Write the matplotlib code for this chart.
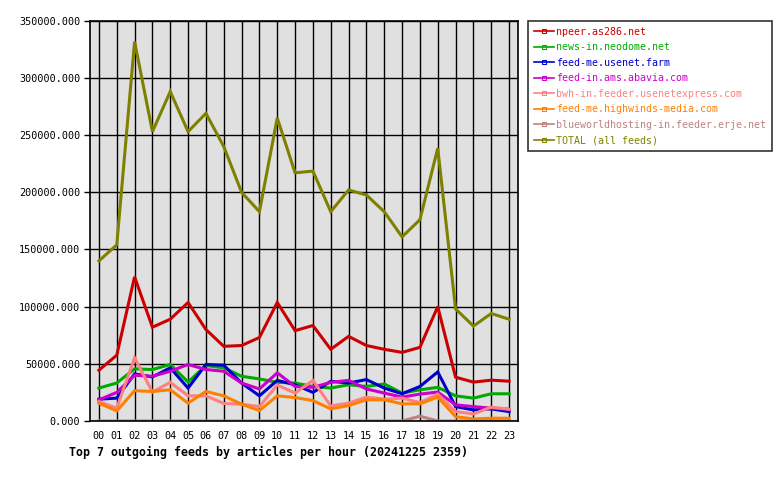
import numpy as np
import matplotlib
matplotlib.use('Agg')
import matplotlib.pyplot as plt
from matplotlib.lines import Line2D

# saat etiketleri
hours = ['%02d' % h for h in range(24)]

npeer = [44400, 57500, 126000, 82000, 89000, 103600, 80000, 65300, 66000, 73000, 103600, 79000,
         83500, 62700, 74000, 66000, 62700, 60000, 64400, 100000, 38300, 34000, 35700, 34800]
neodome = [28800, 33200, 45600, 45000, 49400, 34100, 48500, 46500, 39100, 36800, 33800, 33200,
           30200, 28800, 31700, 30200, 32400, 24400, 27300, 29400, 22000, 20000, 23800, 23800]
usenet_farm = [19100, 20000, 41200, 38500, 46500, 28800, 49400, 48800, 33200, 22000, 35500, 31700,
               25000, 34700, 33200, 36200, 28800, 23800, 30200, 42900, 12600, 9700, 10600, 8200]
abavia = [18500, 25000, 40000, 39100, 43500, 49400, 45000, 43500, 33200, 28000, 42100, 30200,
          29400, 33800, 35500, 28000, 24400, 20900, 23500, 25300, 14100, 12600, 11200, 10300]
bwh = [17000, 11200, 55300, 25300, 33800, 22000, 22000, 15300, 14700, 12600, 31500, 24400,
       35500, 13200, 15600, 20900, 19100, 20000, 16100, 23500, 8200, 6200, 12100, 10300]
highwinds = [15600, 8800, 26500, 25800, 27300, 15600, 25800, 22000, 14700, 9100, 22000, 20500,
             17900, 10600, 13500, 18500, 18500, 15000, 15000, 20900, 3800, 1800, 2400, 2400]
erje = [0, 0, 0, 0, 0, 0, 0, 0, 0, 0, 0, 0,
        0, 0, 0, 0, 0, 0, 4200, 0, 0, 0, 0, 0]
total = [140000, 154000, 331700, 253000, 288000, 253000, 269000, 240000, 200000, 183000, 265000, 217000,
         218500, 183000, 202000, 197600, 183000, 161000, 176000, 238500, 98000, 83000, 94000, 89000]

feeds = ['npeer.as286.net', 'news-in.neodome.net', 'feed-me.usenet.farm', 'feed-in.ams.abavia.com',
         'bwh-in.feeder.usenetexpress.com', 'feed-me.highwinds-media.com',
         'blueworldhosting-in.feeder.erje.net', 'TOTAL (all feeds)']
series = [npeer, neodome, usenet_farm, abavia, bwh, highwinds, erje, total]
colors = ['#cc0000', '#00aa00', '#0000cc', '#cc00cc', '#ff8080', '#ff8000', '#c08080', '#808000']

plt.rcParams['font.family'] = 'DejaVu Sans Mono'

fig = plt.figure(figsize=(7.8, 4.8), dpi=100)
ax = fig.add_axes([90/780, 1 - 421/480, 428/780, 400.3/480])
ax.set_facecolor('#e0e0e0')

x = np.arange(len(hours))
for vals, c in zip(series, colors):
    ax.plot(x, vals, color=c, lw=2.2, solid_joinstyle='miter')

ax.set_xlim(-0.5, 23.5)
ax.set_ylim(0, 350000)
ax.set_xticks(x)
ax.set_xticklabels(hours)
yt = np.arange(0, 350001, 50000)
ax.set_yticks(yt)
ax.set_yticklabels(['%.3f' % v for v in yt])
ax.tick_params(axis='x', length=0, pad=7, labelsize=7.3, colors='black')
ax.tick_params(axis='y', length=4, width=1, pad=3, labelsize=7.3)
ax.grid(True, color='black', lw=1)
ax.set_axisbelow(True)
for s in ax.spines.values():
    s.set_linewidth(1.2)

fig.text(69/780, 1 - 452/480, 'Top 7 outgoing feeds by articles per hour (20241225 2359)',
         fontsize=8.4, fontweight='bold', va='center', ha='left')

# legend: kısa çizgi + küçük kare işaret
handles = [Line2D([0], [0], color=c, lw=1.2, marker='s', markersize=2.5,
                  markerfacecolor='none', markeredgewidth=0.8) for c in colors]
leg = fig.legend(handles, feeds, loc='upper left', bbox_to_anchor=(528/780, 1 - 20.7/480),
                 fontsize=7.2, frameon=True, fancybox=False, edgecolor='black',
                 handlelength=2.0, handletextpad=0.2, labelspacing=0.55,
                 borderpad=0.6, borderaxespad=0)
leg.get_frame().set_linewidth(1.2)
for t, c in zip(leg.get_texts(), colors):
    t.set_color(c)

fig.savefig('out.png', dpi=100)
